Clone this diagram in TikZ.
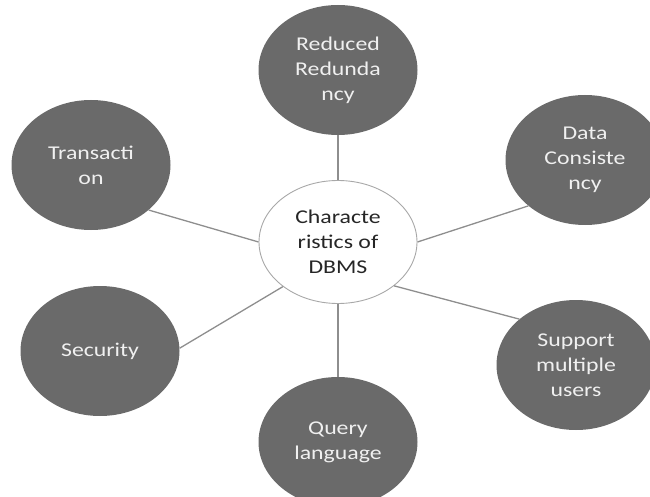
\documentclass[tikz,border=0pt]{standalone}
\usepackage{fontspec}
\setmainfont{Carlito}[FakeStretch=1.22]
\usetikzlibrary{shapes.geometric}
\definecolor{bubble}{HTML}{6A6A6A}
\definecolor{spokegray}{HTML}{8E8E8E}
\definecolor{rim}{HTML}{A8A8A8}
\newcommand{\bubblefont}{\fontsize{19.5}{25}\selectfont}

\begin{document}
\begin{tikzpicture}[x=1pt, y=1pt,
  feature/.style={ellipse, fill=bubble, text=white!94!black,
    minimum width=159pt, minimum height=130pt, inner sep=0pt,
    align=center, font=\bubblefont},
  hub/.style={ellipse, draw=rim, line width=0.9pt, fill=white, text=black!85,
    minimum width=158pt, minimum height=123pt, inner sep=0pt,
    align=center, font=\bubblefont},
  spoke/.style={draw=spokegray, line width=1.3pt}]

\useasboundingbox (0,0) rectangle (650,496);

% centre
\node[hub] (core) at (338,254) {Characte\\ristics of\\DBMS};

% the six characteristics
\node[feature] (redund) at (338,426) {Reduced\\Redunda\\ncy};
\node[feature] (consist) at (585,336) {Data\\Consiste\\ncy};
\node[feature] (multi) at (576,131) {Support\\multiple\\users};
\node[feature] (query) at (338,54) {Query\\language};
\node[feature] (secur) at (100,145) {Security};
\node[feature] (trans) at (91,331) {Transacti\\on};

% spokes
\draw[spoke] (redund) -- (core);
\draw[spoke] (query) -- (core);
\draw[spoke] (trans.-38) -- (core.west);
\draw[spoke] (consist.-141) -- (core.east);
\draw[spoke] (secur.2) -- (core.219);
\draw[spoke] (multi.141) -- (core.-38);
\end{tikzpicture}
\end{document}
